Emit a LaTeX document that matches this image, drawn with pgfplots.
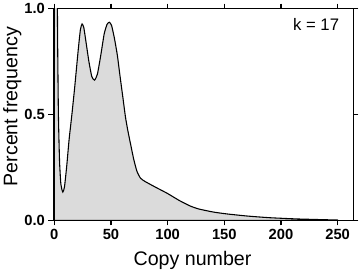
\documentclass[border=0pt]{standalone}
\usepackage{fontspec}
\setmainfont{Liberation Sans}
\usepackage{pgfplots}
\pgfplotsset{compat=1.18}

\begin{document}
\begin{tikzpicture}
\begin{axis}[
  scale only axis,
  width=306pt,
  height=216pt,
  xmin=-1, xmax=264,
  ymin=0, ymax=1,
  xtick={0,50,100,150,200,250},
  ytick={0,0.5,1},
  tick align=outside,
  major tick length=5pt,
  tick style={black, line width=1.2pt},
  axis line style={line width=1.3pt},
  tick label style={font=\fontsize{15}{15}\selectfont\bfseries},
  /pgf/number format/assume math mode=true,
  yticklabel style={/pgf/number format/.cd, fixed, fixed zerofill, precision=1},
  xlabel={Copy number},
  ylabel={Percent frequency},
  xlabel style={font=\fontsize{20}{20}\selectfont, xshift=-11pt, yshift=-5pt},
  ylabel style={font=\fontsize{20}{20}\selectfont, yshift=-4pt, xshift=8pt},
  clip=true,
]
\addplot[fill=black!14, draw=black, line width=1.1pt, smooth, tension=0.35] coordinates {
  (0,2.0) (2.2,1.3) (3,0.8) (3.6,0.5) (4.6,0.28) (5.8,0.17) (7.5,0.134)
  (9,0.16) (11,0.26) (13,0.38) (15.5,0.50) (18,0.63) (21,0.80) (23,0.90)
  (24.5,0.927) (26,0.91) (28,0.84) (30.5,0.75) (33,0.68) (35.4,0.662)
  (38,0.69) (41,0.78) (44,0.88) (46.5,0.925) (48.5,0.935) (50.5,0.92)
  (53,0.86) (55.6,0.78) (58,0.68) (60.5,0.58) (62.8,0.487) (65,0.42)
  (67.1,0.365) (70,0.29) (72.9,0.232) (76,0.20) (80,0.184) (90,0.155)
  (100,0.127) (110,0.095) (120,0.068) (127.6,0.054) (140,0.040)
  (152,0.031) (170,0.021) (190,0.013) (215,0.007) (250,0.002)
} \closedcycle;
\node[font=\fontsize{17}{17}\selectfont] at (axis cs:231,0.925) {k = 17};
\end{axis}
\end{tikzpicture}
\end{document}
